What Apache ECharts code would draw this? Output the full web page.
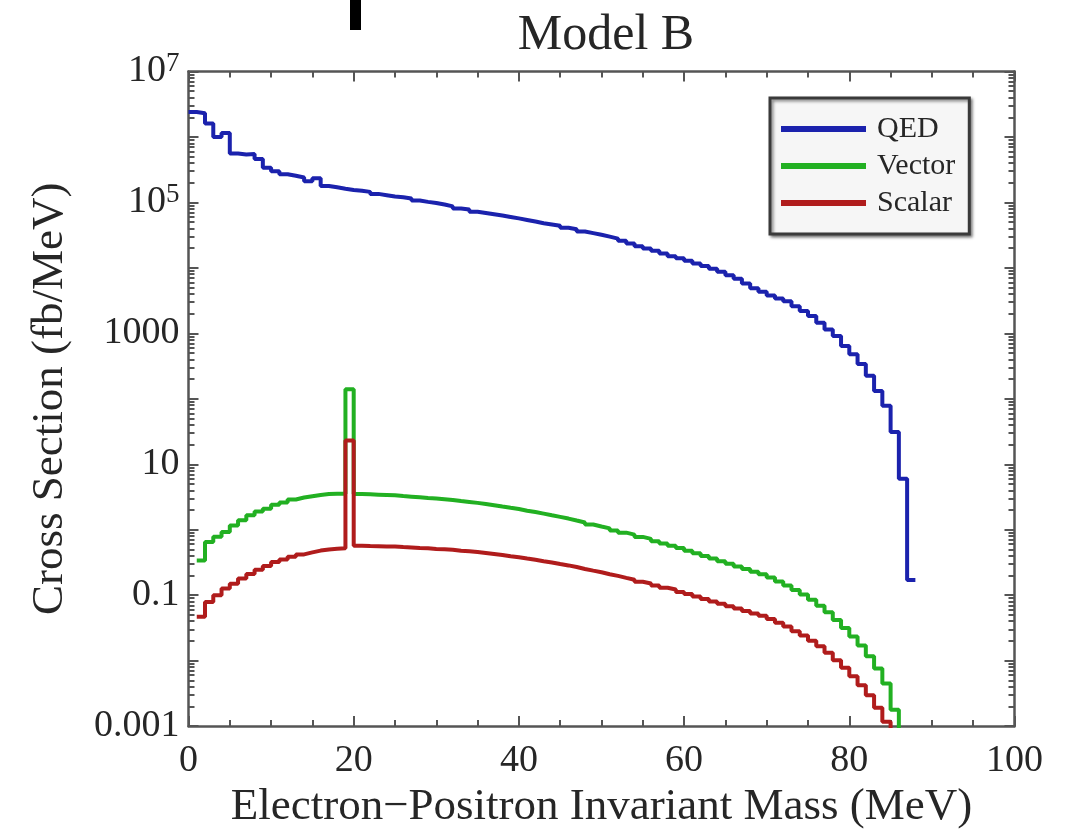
<!DOCTYPE html>
<html>
<head>
<meta charset="utf-8">
<script src="https://cdn.jsdelivr.net/npm/echarts@6/dist/echarts.min.js"></script>
<style>
  html, body { margin: 0; padding: 0; background: #fff; }
  #chart { width: 1070px; height: 835px; }
</style>
</head>
<body>
<div id="chart"></div>
<script>
// ---------------- data ----------------
const chartTitle = 'Model B';
const xAxisTitle = 'Electron\u2212Positron Invariant Mass (MeV)';
const yAxisTitle = 'Cross Section (fb/MeV)';
const seriesNames = ['QED', 'Vector', 'Scalar'];

const binWidth = 1;          // MeV
const qedFirstEdge = 0;      // left edge of first QED bin (MeV)
const vectorFirstEdge = 1;
const scalarFirstEdge = 1;

// QED histogram, bins [0,1] ... [87,88]  (fb/MeV)
const qedValues = [
  2400000, 2300000, 1600000, 1000000, 1150000, 560000, 540000, 550000, 460000, 340000,
  300000, 270000, 255000, 240000, 210000, 235000, 178000, 170000, 162000, 155000,
  151000, 145000, 135000, 129000, 123000, 120000, 115000, 107000, 102000, 98000,
  93000, 87000, 81000, 78000, 72000, 69000, 66000, 63000, 60000, 57000,
  54000, 51000, 48000, 46000, 44000, 41000, 39000, 36000, 34000, 32000,
  30000, 28000, 26000, 23500, 21400, 19700, 18200, 16600, 15100, 14000,
  12900, 11700, 10700, 9700, 8700, 7700, 6800, 5750, 4900, 4300,
  3800, 3400, 3100, 2600, 2200, 1840, 1450, 1140, 910, 640,
  480, 340, 225, 131, 78, 31, 6.0, 0.17
];

// Vector histogram, bins [1,2] ... [86,87]
const vectorValues = [
  0.34, 0.65, 0.78, 0.92, 1.16, 1.39, 1.66, 1.9, 2.1, 2.4,
  2.6, 2.9, 3.1, 3.25, 3.4, 3.5, 3.55, 3.55, 140, 3.51,
  3.47, 3.43, 3.39, 3.35, 3.27, 3.20, 3.13, 3.05, 2.99, 2.92,
  2.85, 2.75, 2.66, 2.57, 2.48, 2.37, 2.26, 2.16, 2.07, 1.95,
  1.86, 1.76, 1.66, 1.57, 1.48, 1.38, 1.29, 1.20, 1.12, 1.05,
  0.977, 0.902, 0.841, 0.776, 0.724, 0.668, 0.617, 0.569, 0.525, 0.479,
  0.437, 0.398, 0.363, 0.331, 0.302, 0.275, 0.251, 0.229, 0.209, 0.186,
  0.162, 0.141, 0.120, 0.102, 0.0851, 0.0692, 0.0550, 0.0417, 0.0316, 0.0234,
  0.0170, 0.0117, 0.00759, 0.00447, 0.00178, 0.0003
];

// Scalar histogram, bins [1,2] ... [85,86]
const scalarValues = [
  0.047, 0.079, 0.10, 0.126, 0.15, 0.18, 0.21, 0.245, 0.28, 0.32,
  0.35, 0.385, 0.42, 0.45, 0.48, 0.50, 0.51, 0.52, 23, 0.569,
  0.562, 0.560, 0.556, 0.552, 0.543, 0.537, 0.525, 0.519, 0.507, 0.501,
  0.495, 0.479, 0.468, 0.457, 0.442, 0.427, 0.412, 0.394, 0.380, 0.363,
  0.347, 0.331, 0.316, 0.299, 0.285, 0.269, 0.251, 0.237, 0.224, 0.209,
  0.197, 0.184, 0.172, 0.160, 0.151, 0.140, 0.130, 0.122, 0.112, 0.104,
  0.0955, 0.0871, 0.0804, 0.0741, 0.0676, 0.0624, 0.0575, 0.0525, 0.0484, 0.0432,
  0.0380, 0.0331, 0.0282, 0.0243, 0.0202, 0.0166, 0.0132, 0.0101, 0.00776, 0.00575,
  0.00422, 0.00295, 0.00191, 0.00117, 0.0004
];

// axis ticks
const xTickValues = [0, 20, 40, 60, 80, 100];
const yLabelValues = [0.001, 0.1, 10, 1000, 1e5, 1e7];
const yLabelTexts = ['0.001', '0.1', '10', '1000', '{b|10}{s|5}', '{b|10}{s|7}'];
const yDecadeValues = [1e-3, 1e-2, 1e-1, 1, 10, 100, 1e3, 1e4, 1e5, 1e6, 1e7];
const yMinorMultipliers = [2, 3, 4, 5, 6, 7, 8, 9];

// ---------------- build ----------------
function histData(firstEdge, values) {
  const d = values.map((v, i) => [firstEdge + i * binWidth, v]);
  d.push([firstEdge + values.length * binWidth, values[values.length - 1]]);
  return d;
}
const yMinorValues = [];
yDecadeValues.slice(0, -1).forEach(dv => yMinorMultipliers.forEach(m => yMinorValues.push(dv * m)));

const FONT = 'Liberation Serif';
const AX = '#555';
const TXT = '#262626';
const colors = ['#1b22ad', '#22b022', '#b01c1c'];

function yLabelFormatter(v) {
  const e = Math.round(Math.log10(v));
  for (let i = 0; i < yLabelValues.length; i++) {
    if (Math.round(Math.log10(yLabelValues[i])) === e) return yLabelTexts[i];
  }
  return '';
}

const logAxisBase = {
  type: 'log', logBase: 10, min: 0.001, max: 1e7,
  splitLine: { show: false }, minorSplitLine: { show: false }
};

const chart = echarts.init(document.getElementById('chart'), null, { renderer: 'canvas' });
chart.setOption({
  animation: false,
  backgroundColor: '#ffffff',
  title: {
    text: chartTitle, left: 601, top: 6, textAlign: 'center',
    textStyle: { fontFamily: FONT, fontSize: 50, fontWeight: 'normal', color: TXT }
  },
  legend: {
    orient: 'vertical', left: 770, top: 98,
    data: seriesNames,
    icon: 'rect', itemWidth: 85, itemHeight: 6, itemGap: 7,
    textStyle: { fontFamily: FONT, fontSize: 30, color: TXT, lineHeight: 29, padding: [0, 0, 0, 6] },
    backgroundColor: '#f6f6f6', borderColor: '#3a3a3a', borderWidth: 3, borderRadius: 0,
    padding: [16, 14, 16, 11],
    shadowColor: 'rgba(0,0,0,0.45)', shadowBlur: 3, shadowOffsetX: 2, shadowOffsetY: 2
  },
  grid: { left: 188.5, right: 55.5, top: 71.5, bottom: 107 },
  xAxis: [
    {
      type: 'value', position: 'bottom', min: 0, max: 100, interval: 20,
      name: xAxisTitle, nameLocation: 'middle', nameGap: 52,
      nameTextStyle: { fontFamily: FONT, fontSize: 45, color: TXT },
      axisLine: { show: true, lineStyle: { color: AX, width: 2.5 } },
      axisTick: { show: true, inside: true, length: 10, lineStyle: { color: AX, width: 2 } },
      minorTick: { show: true, splitNumber: 4, length: 6, lineStyle: { color: AX, width: 2 } },
      axisLabel: { fontFamily: FONT, fontSize: 38, color: TXT, margin: 16,
        customValues: xTickValues },
      splitLine: { show: false }
    },
    {
      type: 'value', position: 'top', min: 0, max: 100, interval: 20,
      axisLine: { show: true, lineStyle: { color: AX, width: 2.5 } },
      axisTick: { show: true, inside: true, length: 10, lineStyle: { color: AX, width: 2 } },
      minorTick: { show: true, splitNumber: 4, length: 6, lineStyle: { color: AX, width: 2 } },
      axisLabel: { show: false },
      splitLine: { show: false }
    }
  ],
  yAxis: [
    Object.assign({}, logAxisBase, {
      position: 'left',
      name: yAxisTitle, nameLocation: 'middle', nameGap: 116, nameRotate: 90,
      nameTextStyle: { fontFamily: FONT, fontSize: 45, color: TXT },
      axisLine: { show: true, lineStyle: { color: AX, width: 2.5 } },
      axisTick: { show: true, inside: true, length: 10, customValues: yDecadeValues,
        lineStyle: { color: AX, width: 2 } },
      axisLabel: {
        fontFamily: FONT, fontSize: 38, color: TXT, margin: 9,
        customValues: yLabelValues, formatter: yLabelFormatter,
        rich: {
          b: { fontFamily: FONT, fontSize: 38, color: TXT },
          s: { fontFamily: FONT, fontSize: 27, color: TXT, verticalAlign: 'top', padding: [0, 0, 16, 0] }
        }
      }
    }),
    Object.assign({}, logAxisBase, {
      position: 'left',
      axisLine: { show: false },
      axisTick: { show: true, inside: true, length: 6, customValues: yMinorValues,
        lineStyle: { color: AX, width: 2 } },
      axisLabel: { show: false }
    }),
    Object.assign({}, logAxisBase, {
      position: 'right',
      axisLine: { show: true, lineStyle: { color: AX, width: 2.5 } },
      axisTick: { show: true, inside: true, length: 10, customValues: yDecadeValues,
        lineStyle: { color: AX, width: 2 } },
      axisLabel: { show: false }
    }),
    Object.assign({}, logAxisBase, {
      position: 'right',
      axisLine: { show: false },
      axisTick: { show: true, inside: true, length: 6, customValues: yMinorValues,
        lineStyle: { color: AX, width: 2 } },
      axisLabel: { show: false }
    })
  ],
  series: [
    { name: seriesNames[0], type: 'line', step: 'end', data: histData(qedFirstEdge, qedValues),
      xAxisIndex: 0, yAxisIndex: 0, symbol: 'none', clip: true,
      lineStyle: { color: colors[0], width: 4 }, itemStyle: { color: colors[0] } },
    { name: seriesNames[1], type: 'line', step: 'end', data: histData(vectorFirstEdge, vectorValues),
      xAxisIndex: 0, yAxisIndex: 0, symbol: 'none', clip: true,
      lineStyle: { color: colors[1], width: 4 }, itemStyle: { color: colors[1] } },
    { name: seriesNames[2], type: 'line', step: 'end', data: histData(scalarFirstEdge, scalarValues),
      xAxisIndex: 0, yAxisIndex: 0, symbol: 'none', clip: true,
      lineStyle: { color: colors[2], width: 4 }, itemStyle: { color: colors[2] } }
  ],
  graphic: [
    { type: 'rect', shape: { x: 350, y: 0, width: 11, height: 30 }, style: { fill: '#000' }, z: 100 }
  ]
});
</script>
</body>
</html>
